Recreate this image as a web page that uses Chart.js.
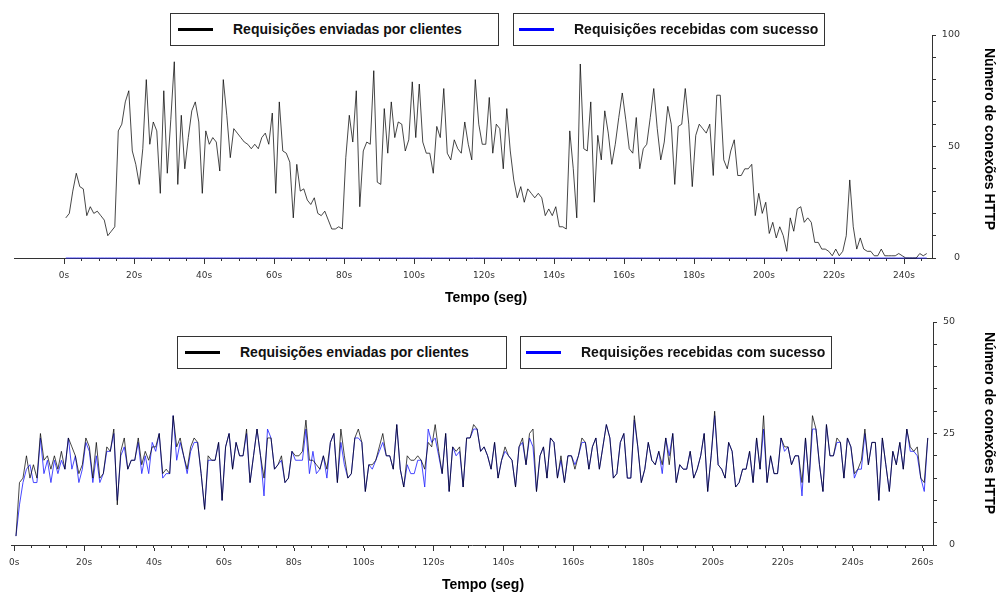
<!DOCTYPE html>
<html>
<head>
<meta charset="utf-8">
<script src="https://cdn.jsdelivr.net/npm/chart.js@4.4.1/dist/chart.umd.min.js"></script>
<style>
  body { margin: 0; background: #fff; width: 1001px; height: 593px; position: relative; overflow: hidden;
         font-family: "Liberation Sans", Arial, sans-serif; }
  .wrap { position: absolute; left: 0; width: 1001px; }
  canvas { display: block; }
  .legend { position: absolute; height: 33px; border: 1.5px solid #333; box-sizing: border-box; background: #fff; }
  .legend .sample { position: absolute; top: 14px; height: 3px; width: 35px; }
  .legend .txt { position: absolute; top: 7px; font-weight: bold; font-size: 14px; color: #111; white-space: nowrap; }
  .title { position: absolute; font-weight: bold; font-size: 14px; color: #000; white-space: nowrap; transform: translate(-50%, -50%); }
  .title.vert { transform: translate(-50%, -50%) rotate(90deg); }
</style>
</head>
<body>
<div class="wrap" style="top:0;height:300px"><canvas id="top" width="1001" height="300"></canvas></div>
<div class="wrap" style="top:300px;height:293px"><canvas id="bottom" width="1001" height="293"></canvas></div>

<script>
// series names
const seriesNames = ["Requisições enviadas por clientes", "Requisições recebidas com sucesso"];
const seriesColors = ["#000", "#0000ff"];
const xTitle = "Tempo (seg)";
const yTitle = "Número de conexões HTTP";

// samples are taken once a second, first one half a second in
const sampleStart = 0.5;
const sampleStep = 1;

// top chart (one sample per second)
const topSent = [
  18, 20, 30, 38, 32, 31, 19, 23, 20, 21,
  19, 17, 10, 12, 14, 57, 60, 70, 75, 48,
  42, 33, 49, 80, 51, 61, 57, 29, 75, 38,
  62, 88, 33, 64, 40, 54, 66, 70, 61, 29,
  57, 51, 54, 52, 39, 80, 64, 45, 58, 56,
  54, 52, 51, 49, 51, 49, 54, 56, 51, 65,
  29, 70, 48, 47, 43, 18, 42, 30, 31, 26,
  24, 27, 20, 19, 21, 17, 13, 13, 14, 13,
  45, 64, 52, 75, 23, 48, 52, 51, 84, 34,
  33, 67, 47, 70, 54, 61, 60, 48, 53, 79,
  54, 78, 52, 47, 47, 38, 59, 54, 76, 47,
  44, 53, 49, 47, 61, 51, 44, 80, 60, 51,
  51, 72, 47, 60, 58, 40, 67, 48, 35, 27,
  32, 25, 31, 29, 27, 29, 27, 19, 22, 19,
  23, 14, 14, 13, 57, 40, 18, 87, 49, 48,
  70, 25, 55, 44, 66, 56, 42, 51, 63, 74,
  62, 49, 47, 63, 40, 49, 51, 63, 76, 58,
  44, 52, 68, 60, 33, 59, 60, 76, 60, 32,
  55, 60, 58, 56, 60, 37, 73, 73, 44, 40,
  48, 53, 37, 37, 40, 40, 42, 19, 29, 20,
  25, 11, 16, 9, 14, 10, 3, 18, 12, 22,
  23, 16, 18, 16, 7, 7, 4, 4, 3, 1,
  4, 1, 3, 10, 35, 14, 4, 9, 4, 3,
  3, 1, 1, 4, 1, 1, 1, 1, 2, 1,
  0, 0, 0, 0, 2, 1, 2
];
const topReceived = [
  0, 0, 0, 0, 0, 0, 0, 0, 0, 0, 0, 0, 0, 0, 0, 0, 0, 0, 0, 0, 0, 0, 0, 0, 0, 0, 0, 0, 0, 0,
  0, 0, 0, 0, 0, 0, 0, 0, 0, 0, 0, 0, 0, 0, 0, 0, 0, 0, 0, 0, 0, 0, 0, 0, 0, 0, 0, 0, 0, 0,
  0, 0, 0, 0, 0, 0, 0, 0, 0, 0, 0, 0, 0, 0, 0, 0, 0, 0, 0, 0, 0, 0, 0, 0, 0, 0, 0, 0, 0, 0,
  0, 0, 0, 0, 0, 0, 0, 0, 0, 0, 0, 0, 0, 0, 0, 0, 0, 0, 0, 0, 0, 0, 0, 0, 0, 0, 0, 0, 0, 0,
  0, 0, 0, 0, 0, 0, 0, 0, 0, 0, 0, 0, 0, 0, 0, 0, 0, 0, 0, 0, 0, 0, 0, 0, 0, 0, 0, 0, 0, 0,
  0, 0, 0, 0, 0, 0, 0, 0, 0, 0, 0, 0, 0, 0, 0, 0, 0, 0, 0, 0, 0, 0, 0, 0, 0, 0, 0, 0, 0, 0,
  0, 0, 0, 0, 0, 0, 0, 0, 0, 0, 0, 0, 0, 0, 0, 0, 0, 0, 0, 0, 0, 0, 0, 0, 0, 0, 0, 0, 0, 0,
  0, 0, 0, 0, 0, 0, 0, 0, 0, 0, 0, 0, 0, 0, 0, 0, 0, 0, 0, 0, 0, 0, 0, 0, 0, 0, 0, 0, 0, 0,
  0, 0, 0, 0, 0, 0, 0
];
const topYLabels = [0, 50, 100];

// bottom chart
const bottomSent = [
  2, 14, 15, 20, 15, 18, 15, 25, 19, 20,
  17, 20, 17, 21, 17, 24, 22, 20, 16, 18,
  24, 22, 15, 23, 15, 16, 22, 21, 26, 9,
  21, 24, 17, 19, 19, 24, 18, 21, 19, 22,
  22, 25, 16, 17, 16, 29, 22, 24, 20, 17,
  22, 24, 23, 16, 8, 20, 19, 19, 23, 10,
  22, 25, 17, 23, 20, 20, 26, 14, 20, 26,
  20, 15, 24, 24, 17, 18, 20, 14, 15, 21,
  20, 20, 21, 28, 19, 19, 18, 17, 20, 17,
  23, 25, 14, 26, 20, 15, 16, 24, 26, 23,
  12, 18, 18, 19, 22, 25, 20, 20, 17, 27,
  17, 13, 20, 19, 19, 20, 19, 17, 23, 22,
  27, 21, 16, 25, 12, 22, 21, 22, 13, 24,
  24, 27, 26, 21, 22, 20, 17, 23, 15, 19,
  22, 20, 19, 13, 22, 24, 18, 25, 26, 12,
  20, 22, 15, 24, 23, 15, 20, 14, 20, 20,
  17, 20, 24, 23, 17, 22, 24, 17, 22, 27,
  24, 15, 16, 23, 25, 15, 15, 29, 22, 14,
  17, 23, 19, 18, 21, 18, 24, 18, 25, 14,
  18, 17, 17, 21, 15, 17, 20, 25, 12, 20,
  30, 18, 17, 15, 23, 21, 13, 14, 17, 17,
  21, 14, 24, 17, 29, 14, 20, 16, 16, 24,
  22, 22, 18, 20, 20, 14, 24, 14, 29, 26,
  18, 12, 27, 20, 20, 24, 23, 15, 24, 22,
  16, 17, 19, 26, 18, 23, 23, 10, 24, 18,
  12, 21, 18, 23, 17, 26, 22, 21, 22, 15,
  14, 24
];
const bottomReceived = [
  2, 9, 14, 17, 18, 14, 14, 24, 16, 19,
  14, 19, 16, 19, 17, 24, 17, 20, 14, 17,
  23, 21, 14, 20, 14, 16, 21, 21, 25, 10,
  20, 22, 17, 19, 19, 23, 16, 20, 16, 23,
  21, 25, 15, 16, 16, 29, 19, 23, 20, 16,
  21, 23, 23, 16, 8, 19, 19, 19, 23, 10,
  22, 25, 17, 23, 20, 20, 25, 14, 20, 26,
  20, 11, 26, 24, 17, 18, 19, 14, 15, 21,
  19, 19, 19, 26, 16, 21, 16, 17, 20, 15,
  23, 25, 14, 23, 18, 15, 16, 24, 24, 23,
  12, 18, 17, 19, 21, 23, 20, 20, 17, 27,
  17, 13, 18, 16, 16, 19, 19, 13, 26, 23,
  24, 20, 16, 25, 12, 22, 20, 21, 13, 24,
  24, 26, 26, 21, 22, 20, 17, 23, 15, 19,
  21, 20, 19, 13, 22, 23, 18, 24, 22, 12,
  20, 22, 15, 24, 23, 15, 19, 14, 20, 20,
  18, 20, 23, 23, 17, 22, 24, 17, 22, 27,
  24, 15, 16, 23, 25, 15, 15, 28, 22, 14,
  17, 23, 19, 18, 21, 16, 24, 20, 25, 14,
  18, 17, 17, 21, 15, 17, 20, 25, 12, 20,
  29, 18, 17, 15, 23, 21, 13, 14, 17, 17,
  21, 14, 24, 17, 26, 14, 20, 16, 16, 24,
  21, 22, 18, 20, 20, 11, 24, 14, 26, 26,
  18, 12, 27, 20, 20, 23, 23, 15, 24, 22,
  15, 17, 17, 25, 18, 23, 23, 10, 24, 18,
  12, 21, 18, 23, 17, 26, 21, 21, 20, 15,
  12, 24
];
const bottomYLabels = [0, 25, 50];

const xLabelEvery = 20;

function toPoints(values) {
  return values.map((v, i) => ({ x: sampleStart + i * sampleStep, y: v }));
}

// labelled x ticks are a bit longer than the minor ones
const majorTicks = {
  id: "majorTicks",
  afterDraw(chart) {
    const { ctx, scales: { x } } = chart;
    ctx.save();
    ctx.strokeStyle = "#333";
    ctx.lineWidth = 1;
    x.ticks.forEach(t => {
      if (t.value % xLabelEvery !== 0) return;
      const px = Math.round(x.getPixelForValue(t.value)) + 0.5;
      ctx.beginPath();
      ctx.moveTo(px, x.top + 3);
      ctx.lineTo(px, x.top + 6);
      ctx.stroke();
    });
    ctx.restore();
  }
};

// area: where the plot box sits inside the canvas, labelRight: right edge of the y tick labels
function makeChart(id, cfg) {
  const cv = document.getElementById(id);
  const W = cv.width, H = cv.height, a = cfg.area;
  return new Chart(cv, {
    type: "line",
    data: {
      datasets: [
        { label: seriesNames[0], data: toPoints(cfg.sent), borderColor: "rgba(0,0,0,0.72)",
          borderWidth: 1, pointRadius: 0, tension: 0, order: 0, clip: 4 },
        { label: seriesNames[1], data: toPoints(cfg.received), borderColor: "rgba(40,40,255,0.85)",
          borderWidth: 1, pointRadius: 0, tension: 0, order: 1, clip: 4 }
      ]
    },
    options: {
      responsive: false,
      animation: false,
      events: [],
      layout: { padding: { left: a.left, top: a.top, right: W - cfg.labelRight, bottom: 0 } },
      plugins: { legend: { display: false }, tooltip: { enabled: false } },
      scales: {
        x: {
          type: "linear",
          min: cfg.xMin,
          max: cfg.xMax,
          afterBuildTicks: s => {
            const t = [];
            for (let v = 0; v <= cfg.xLastTick; v += 5) t.push({ value: v });
            s.ticks = t;
          },
          afterFit: s => { s.height = H - a.bottom; },
          border: { display: true, color: "#333", width: 1 },
          grid: { drawOnChartArea: false, drawTicks: true, tickLength: 3, tickColor: "#333", color: "#333" },
          ticks: {
            autoSkip: false, maxRotation: 0, minRotation: 0, padding: 9,
            color: "#333", font: { family: "DejaVu Sans", size: 9 },
            callback: v => (v % xLabelEvery === 0 ? v + "s" : "")
          }
        },
        y: {
          position: "right",
          min: 0,
          max: cfg.yLabels[cfg.yLabels.length - 1],
          afterFit: s => { s.width = cfg.labelRight - a.right; },
          border: { display: true, color: "#333", width: 1 },
          grid: { drawOnChartArea: false, drawTicks: true, tickLength: 4, tickColor: "#333", color: "#333" },
          ticks: {
            stepSize: cfg.yStep, autoSkip: false, padding: 5, crossAlign: "far",
            color: "#333", font: { family: "DejaVu Sans", size: 9.5 },
            callback: v => (cfg.yLabels.includes(v) ? String(v) : "")
          }
        }
      }
    },
    plugins: [majorTicks]
  });
}

makeChart("top", {
  sent: topSent, received: topReceived, yLabels: topYLabels, yStep: 10,
  xMin: -14.3, xMax: 248, xLastTick: 245,
  area: { left: 14, top: 35, right: 932, bottom: 258 }, labelRight: 960
});
makeChart("bottom", {
  sent: bottomSent, received: bottomReceived, yLabels: bottomYLabels, yStep: 5,
  xMin: -0.77, xMax: 263, xLastTick: 260,
  area: { left: 10, top: 22, right: 933, bottom: 245 }, labelRight: 955
});

// legend boxes and axis titles (html on top of the canvases)
function legendBox(left, top, width, idx) {
  const d = document.createElement("div");
  d.className = "legend";
  d.style.left = left + "px"; d.style.top = top + "px"; d.style.width = width + "px";
  const sample = idx === 0 ? 7 : 5;
  d.innerHTML = `<div class="sample" style="left:${sample}px;background:${seriesColors[idx]}"></div>` +
                `<div class="txt" style="left:${sample + 55}px">${seriesNames[idx]}</div>`;
  document.body.appendChild(d);
}
function title(text, x, y, vert) {
  const d = document.createElement("div");
  d.className = "title" + (vert ? " vert" : "");
  d.style.left = x + "px"; d.style.top = y + "px";
  d.textContent = text;
  document.body.appendChild(d);
}

legendBox(170, 13, 329, 0);
legendBox(513, 13, 312, 1);
legendBox(177, 336, 330, 0);
legendBox(520, 336, 312, 1);

title(xTitle, 486, 297, false);
title(xTitle, 483, 584, false);
title(yTitle, 990, 139, true);
title(yTitle, 990, 423, true);
</script>
</body>
</html>
